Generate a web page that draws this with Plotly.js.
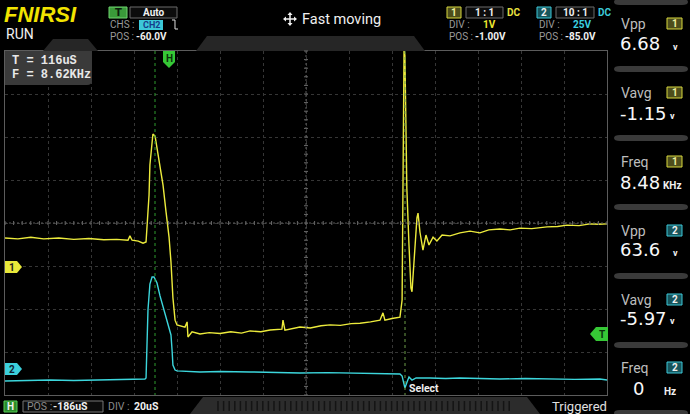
<!DOCTYPE html>
<html>
<head>
<meta charset="utf-8">
<script src="https://cdn.plot.ly/plotly-3.0.1.min.js"></script>
<style>
html,body{margin:0;padding:0;background:#000;}
#chart{width:690px;height:414px;}
</style>
</head>
<body>
<div id="chart"></div>
<script>
// ---- Data (time in µs from left edge of screen, voltages in V) ----
const ch1Time = [0, 6, 12, 18, 25, 32, 39, 46, 52, 57.2, 58.1, 59.1, 62, 64.2, 65.6, 66.0, 67.0, 67.4, 68.4, 68.8, 69.8, 70.7, 72.1, 73.5, 74.9, 76.3, 77.2, 78.1, 79.1, 80.0, 83.7, 84.7, 85.1, 87.0, 90.7, 95, 100, 105, 110, 114, 119, 123.3, 128.8, 129.3, 130.2, 134, 137.2, 142, 147, 151.2, 156, 161, 165.1, 170, 174.4, 175.8, 176.7, 180, 183.7, 184.7, 185.1, 185.6, 186.0, 186.5, 186.9, 187.9, 188.8, 189.3, 190.2, 191.6, 192.1, 193.0, 194.4, 195.8, 197.2, 199.1, 200.9, 203.3, 207.0, 211.6, 216.3, 220.9, 225, 230.2, 235, 239.5, 245, 252.1, 257, 261.4, 267, 272.1, 276, 280];
const ch1Volts = [0.65, 0.63, 0.67, 0.63, 0.65, 0.62, 0.64, 0.61, 0.62, 0.60, 0.70, 0.60, 0.58, 0.53, 0.56, 0.84, 1.65, 2.35, 2.88, 3.07, 3.02, 2.74, 2.35, 1.88, 1.26, 0.67, 0.09, -0.74, -1.26, -1.37, -1.42, -1.30, -1.65, -1.53, -1.58, -1.55, -1.57, -1.53, -1.56, -1.51, -1.53, -1.49, -1.47, -1.26, -1.49, -1.45, -1.42, -1.44, -1.39, -1.37, -1.38, -1.34, -1.33, -1.30, -1.26, -1.09, -1.26, -1.22, -1.19, -0.79, 2.70, 5.02, 4.9, 2.81, 1.81, 0.49, -0.51, -0.60, 0.09, 1.12, 1.23, 0.79, 0.37, 0.72, 0.49, 0.67, 0.58, 0.72, 0.70, 0.77, 0.81, 0.77, 0.84, 0.86, 0.84, 0.88, 0.87, 0.91, 0.92, 0.95, 0.94, 0.98, 0.97, 0.98];
const ch2Time = [0, 10, 20.9, 32, 44.2, 55, 65.1, 65.6, 66.0, 66.5, 67.4, 68.4, 69.3, 70.7, 72.1, 74.4, 75.8, 77.2, 77.7, 78.1, 79.1, 80.0, 90.7, 100, 114, 125, 137.2, 150, 160.5, 172, 183.7, 184.7, 185.6, 186.0, 187.0, 187.9, 189.3, 191.2, 197.7, 205, 211.6, 220, 230.2, 242, 253.5, 265, 276.7, 280];
const ch2Volts = [-6.9, -6.5, -6.3, -6.6, -6.3, -6.0, -5.7, -5.1, 9.4, 34.4, 49.5, 53.6, 53.6, 50.1, 42.6, 32.7, 25.7, 19.9, 11.2, 2.4, -0.5, -1.0, -1.6, -1.3, -1.6, -1.9, -2.2, -2.0, -2.2, -2.5, -2.8, -4.0, -9.8, -10.9, -7.4, -4.5, -6.3, -5.1, -5.1, -5.4, -5.1, -5.4, -5.7, -5.4, -5.7, -5.9, -5.7, -6.3];

// Scope settings
const ch1Range = [-3, 5];     // 1 V/div, POS -1.00 V
const ch2Range = [-15, 185];  // 25 V/div, POS -85.0 V
const timeRange = [0, 280];   // 20 µs/div, 14 div

const measLabels = ["Vpp", "Vavg", "Freq", "Vpp", "Vavg", "Freq"];
const measChannels = ["1", "1", "1", "2", "2", "2"];
const measValues = ["6.68", "-1.15", "8.48", "63.6", "-5.97", "0"];
const measUnits = ["v", "v", "KHz", "v", "v", "Hz"];

// ---- Layout helpers (pixel -> paper) ----
const L = 5, R = 607, T = 51, B = 395;
const PX = px => (px - L) / (R - L);
const PY = py => (B - py) / (B - T);
const shapes = [], ann = [];
function P(px, py) { return PX(px).toFixed(5) + ',' + PY(py).toFixed(5); }
function poly(pts, fill, line, lw) {
  let d = pts.map((p, i) => (i ? 'L' : 'M') + P(p[0], p[1])).join(' ') + ' Z';
  shapes.push({type: 'path', xref: 'paper', yref: 'paper', path: d, fillcolor: fill,
    line: {color: line || 'rgba(0,0,0,0)', width: lw || 0}, layer: 'above'});
}
function rawPath(d, fill, line, lw, dash) {
  shapes.push({type: 'path', xref: 'paper', yref: 'paper', path: d, fillcolor: fill || 'rgba(0,0,0,0)',
    line: {color: line || 'rgba(0,0,0,0)', width: lw || 0, dash: dash || 'solid'}, layer: 'above'});
}
function rect(x0, y0, x1, y1, fill, line, lw) {
  shapes.push({type: 'rect', xref: 'paper', yref: 'paper', x0: PX(x0), x1: PX(x1), y0: PY(y1), y1: PY(y0),
    fillcolor: fill, line: {color: line || 'rgba(0,0,0,0)', width: lw || 0}, layer: 'above'});
}
function seg(x0, y0, x1, y1, color, w, dash) {
  shapes.push({type: 'line', xref: 'paper', yref: 'paper', x0: PX(x0), x1: PX(x1), y0: PY(y0), y1: PY(y1),
    line: {color: color, width: w || 1, dash: dash || 'solid'}, layer: 'above'});
}
function txt(s, px, py, size, color, opts) {
  opts = opts || {};
  ann.push({text: s, x: PX(px), y: PY(py), xref: 'paper', yref: 'paper', showarrow: false,
    xanchor: opts.anchor || 'left', yanchor: 'middle', borderpad: 0,
    font: {family: opts.family || 'Roboto, sans-serif', size: size, color: color,
      weight: opts.weight || 'normal', style: opts.style || 'normal'}});
}

// ---- Top header ----
poly([[43, 51], [53, 39], [88, 39], [98, 51]], '#262626');
poly([[196, 51], [207, 36], [414, 36], [425, 51]], '#262626');

txt('FNIRSI', 3, 14, 22, '#f2e400', {family: 'Liberation Sans, Arial, sans-serif', weight: 'bold', style: 'italic'});
txt('RUN', 5, 34, 14, '#f0f0f0');

rect(109, 7, 127, 18, '#3a9a3a', '#6fd36f', 1);
txt('T', 118, 12.5, 10, '#0b1a0b', {anchor: 'center', weight: 'bold', family: 'DejaVu Sans, sans-serif'});
rect(130, 7, 177, 18, '#0c0c0c', '#6a6a6a', 1);
txt('Auto', 153.5, 12.5, 10, '#f0f0f0', {anchor: 'center', weight: 'bold'});
txt('CHS :', 109, 24.5, 10, '#9a9a9a');
rect(139, 20, 163, 30, '#3cc8d8', null, 0);
txt('CH2', 151, 25, 9, '#163c8a', {anchor: 'center', weight: 'bold'});
rawPath('M' + P(172, 20) + ' L' + P(175, 20) + ' L' + P(175, 29) + ' L' + P(178, 29), null, '#e0e0e0', 1);
txt('POS :', 109, 37, 10, '#9a9a9a');
txt('-60.0V', 135, 37, 10, '#f0f0f0', {weight: 'bold'});

// move icon (four-way arrow)
rawPath('M' + P(284, 19) + ' L' + P(296, 19) + ' M' + P(290, 13) + ' L' + P(290, 25), null, '#f0f0f0', 1.5);
poly([[290, 12], [287.5, 15], [292.5, 15]], '#f0f0f0');
poly([[290, 26], [287.5, 23], [292.5, 23]], '#f0f0f0');
poly([[283, 19], [286, 16.5], [286, 21.5]], '#f0f0f0');
poly([[297, 19], [294, 16.5], [294, 21.5]], '#f0f0f0');
txt('Fast moving', 301, 19, 14.5, '#f0f0f0');

// CH1 header
rect(447, 7, 461, 18, '#4e4e1c', '#d8d83c', 1);
txt('1', 454, 12.5, 10, '#f0f0a0', {anchor: 'center', weight: 'bold'});
rect(466, 7, 503, 18, '#0c0c0c', '#6a6a6a', 1);
txt('1 : 1', 484.5, 12.5, 10, '#f0f0f0', {anchor: 'center', weight: 'bold'});
txt('DC', 506, 12.5, 10, '#e8e040', {weight: 'bold'});
txt('DIV :', 448, 24.5, 10, '#9a9a9a');
txt('1V', 482, 24.5, 10, '#f0e830', {weight: 'bold'});
txt('POS :', 448, 37, 10, '#9a9a9a');
txt('-1.00V', 474, 37, 10, '#f0f0f0', {weight: 'bold'});

// CH2 header
rect(537, 7, 551, 18, '#17555c', '#3cc8d8', 1);
txt('2', 544, 12.5, 10, '#f0f0f0', {anchor: 'center', weight: 'bold'});
rect(556, 7, 594, 18, '#0c0c0c', '#6a6a6a', 1);
txt('10 : 1', 575, 12.5, 10, '#f0f0f0', {anchor: 'center', weight: 'bold'});
txt('DC', 597, 12.5, 10, '#3cc8d8', {weight: 'bold'});
txt('DIV :', 538, 24.5, 10, '#9a9a9a');
txt('25V', 572, 24.5, 10, '#3cd0e0', {weight: 'bold'});
txt('POS :', 538, 37, 10, '#9a9a9a');
txt('-85.0V', 564, 37, 10, '#f0f0f0', {weight: 'bold'});

// ---- Right measurement panel ----
const sepY = [2, 69, 138, 207, 276, 345, 413];
sepY.forEach(yc => {
  rawPath('M' + P(620, yc - 3) + ' L' + P(682, yc - 3) + ' Q' + P(688, yc - 3) + ' ' + P(688, yc) +
    ' Q' + P(688, yc + 3) + ' ' + P(682, yc + 3) + ' L' + P(620, yc + 3) + ' Q' + P(614, yc + 3) + ' ' + P(614, yc) +
    ' Q' + P(614, yc - 3) + ' ' + P(620, yc - 3) + ' Z', '#3a3a3a');
});
const secLabelY = [24, 93, 162, 231, 300, 368];
const secValY = [44, 113, 182, 250, 318, 388];
measLabels.forEach((lab, i) => {
  const ly = secLabelY[i], vy = secValY[i];
  txt(lab, 620, ly, 14, '#bdbdbd');
  const c1 = measChannels[i] === '1';
  rect(667, ly - 6, 682, ly + 5, c1 ? '#4e4e1c' : '#17555c', c1 ? '#d8d83c' : '#3cc8d8', 1);
  txt(measChannels[i], 674.5, ly - 0.5, 10, c1 ? '#f0f0a0' : '#f0f0f0', {anchor: 'center', weight: 'bold'});
  const v = measValues[i];
  const vx = v === '0' ? 632 : 619;
  txt(v, vx, vy, 18, '#f8f8f8', {family: 'DejaVu Sans, sans-serif'});
  const u = measUnits[i];
  const ux = u === 'KHz' ? 662 : (u === 'Hz' ? 663 : (v.length > 4 ? 669 : 672));
  txt(u, ux, vy + 3, u === 'v' ? 9 : 10, '#f0f0f0', {weight: 'bold'});
});

// ---- Grid centre cross ticks ----
let tickPath = '';
for (let x = L; x <= R + 0.5; x += 43 / 5) tickPath += ' M' + P(x, 221) + ' L' + P(x, 225);
for (let y = T; y <= B + 0.5; y += 43 / 5) tickPath += ' M' + P(304, y) + ' L' + P(308, y);
rawPath(tickPath.trim(), null, '#6a6a6a', 1);
seg(L, 223, R, 223, '#5a5a5a', 1, '2px,2px');
seg(306, T, 306, B, '#5a5a5a', 1, '2px,2px');

// trigger position line and cursor line
seg(155, T, 155, B, '#2f9a2f', 1, '3px,3px');
seg(405, T, 405, B, '#6c9c48', 1, '3px,3px');

// info box
rawPath('M' + P(5, 51) + ' L' + P(92, 51) + ' L' + P(92, 80) + ' Q' + P(92, 85) + ' ' + P(87, 85) + ' L' + P(5, 85) + ' Z', '#3a3a3a');
txt('T = 116uS', 11, 61, 12, '#e8e8e8', {family: 'Liberation Mono, monospace', weight: 'bold'});
txt('F = 8.62KHz', 11, 75, 12, '#e8e8e8', {family: 'Liberation Mono, monospace', weight: 'bold'});

// markers
poly([[163, 51], [175, 51], [175, 62], [169, 68], [163, 62]], '#36c836');
txt('H', 169, 58, 10, '#0b300b', {anchor: 'center', weight: 'bold'});
poly([[590, 334], [596, 327], [608, 327], [608, 341], [596, 341]], '#36c836');
txt('T', 601.5, 334, 10, '#0b300b', {anchor: 'center', weight: 'bold'});
poly([[5, 261], [17, 261], [22, 267], [17, 273], [5, 273]], '#e8e83a');
txt('1', 11.5, 267, 10, '#222', {anchor: 'center', weight: 'bold'});
poly([[5, 363], [17, 363], [22, 369], [17, 375], [5, 375]], '#3cd0dc');
txt('2', 11.5, 369, 10, '#123', {anchor: 'center', weight: 'bold'});
txt('Select', 408, 388, 10.5, '#f0f0f0', {weight: 'bold'});

// ---- Bottom bar ----
poly([[190, 414], [203, 397], [527, 397], [540, 414]], '#2c2c2c');
let sc = '';
for (let x = 218; x <= 512; x += 5.6) sc += ' M' + P(x, 401) + ' L' + P(x, 411);
rawPath(sc.trim(), null, '#141414', 1.5);
rect(4, 401, 17, 412, '#2a8a2a', '#5c5', 1);
txt('H', 10.5, 406.5, 10, '#f0f0f0', {anchor: 'center', weight: 'bold'});
rect(23, 401, 103, 412, '#0c0c0c', '#777', 1);
txt('POS :', 26, 406.5, 10.5, '#8a8a8a');
txt('-186uS', 52, 406.5, 10.5, '#f0f0f0', {weight: 'bold'});
txt('DIV :', 107, 406.5, 10.5, '#8a8a8a');
txt('20uS', 133, 406.5, 10.5, '#f0f0f0', {weight: 'bold'});
txt('Triggered', 608, 406, 13, '#e0e0e0', {anchor: 'right'});

// ---- Traces ----
const traces = [
  {x: ch1Time, y: ch1Volts, type: 'scatter', mode: 'lines', name: 'CH1',
    line: {color: '#eceb3c', width: 1.4, shape: 'linear'}, yaxis: 'y', hoverinfo: 'skip'},
  {x: ch2Time, y: ch2Volts, type: 'scatter', mode: 'lines', name: 'CH2',
    line: {color: '#3cd6dc', width: 1.4, shape: 'linear'}, yaxis: 'y2', hoverinfo: 'skip'}
];

const layout = {
  width: 690, height: 414,
  margin: {l: L, r: 690 - R, t: T, b: 414 - B, pad: 0},
  paper_bgcolor: '#000', plot_bgcolor: '#000',
  showlegend: false,
  xaxis: {range: timeRange, dtick: 20, tick0: 0, showgrid: true, gridcolor: '#363636', griddash: 'dot', gridwidth: 1,
    zeroline: false, showticklabels: false, ticks: '', showline: true, mirror: true, linecolor: '#5c5c5c', linewidth: 1, fixedrange: true},
  yaxis: {range: ch1Range, dtick: 1, tick0: 0, showgrid: true, gridcolor: '#363636', griddash: 'dot', gridwidth: 1,
    zeroline: false, showticklabels: false, ticks: '', showline: true, mirror: true, linecolor: '#5c5c5c', linewidth: 1, fixedrange: true},
  yaxis2: {range: ch2Range, overlaying: 'y', side: 'right', showgrid: false, zeroline: false, showticklabels: false,
    ticks: '', showline: false, fixedrange: true},
  shapes: shapes,
  annotations: ann
};

Plotly.newPlot('chart', traces, layout, {staticPlot: true, displayModeBar: false});
</script>
</body>
</html>
